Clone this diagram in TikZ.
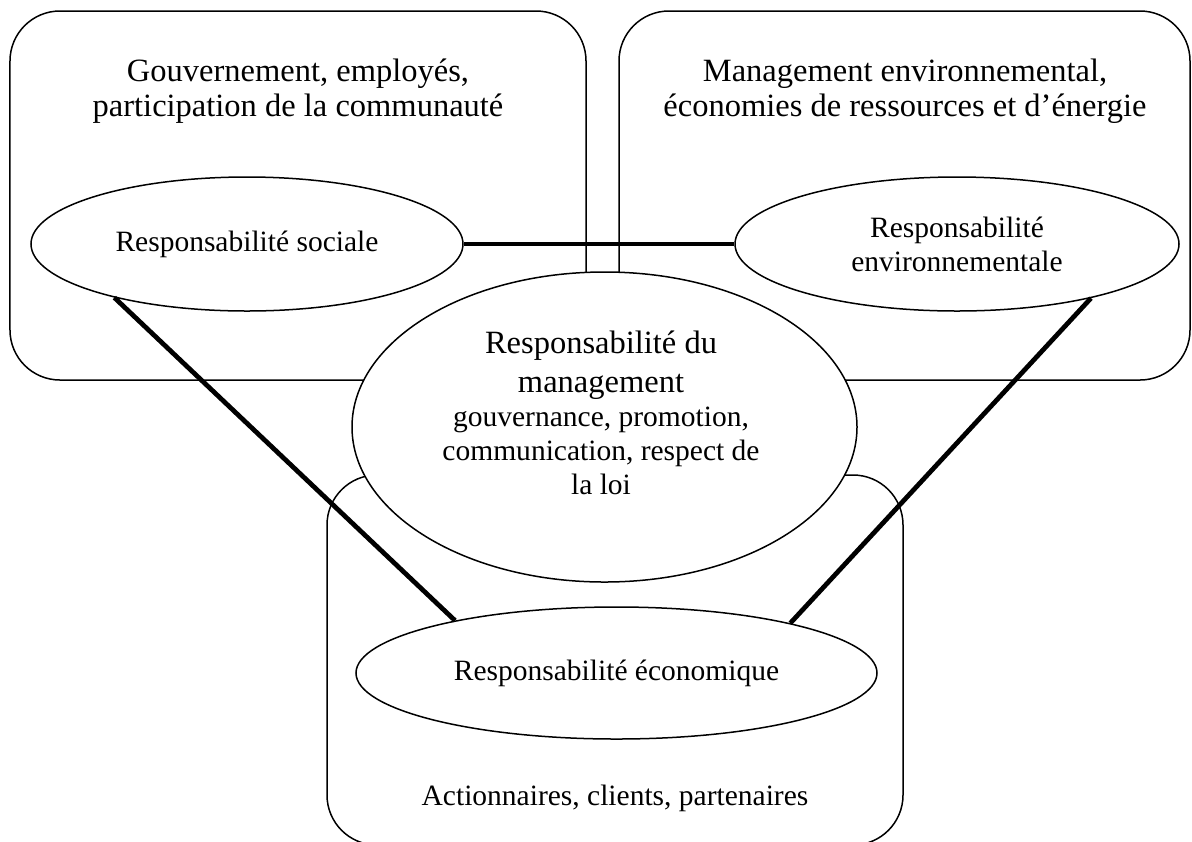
\documentclass[tikz,border=0pt]{standalone}
\usepackage{fontspec}
\setmainfont{Liberation Serif}
\usetikzlibrary{shapes.geometric, positioning}
\newcommand{\normtext}{\fontsize{11.8pt}{13.6pt}\selectfont}
\newcommand{\bigtext}{\fontsize{13pt}{14pt}\selectfont}

\begin{document}
\begin{tikzpicture}[
  x=0.4pt, y=-0.4pt,
  panel/.style={draw, line width=0.6pt, rounded corners=20pt,
                minimum width=230.4pt, minimum height=147.6pt, inner sep=0pt},
  bubble/.style={draw, ellipse, line width=0.6pt, fill=white,
                 inner sep=0pt, align=center, font=\normtext},
  title/.style={align=center, font=\bigtext},
  link/.style={line width=1.9pt}
]
\useasboundingbox (0,0) rectangle (1192,841);
\node[panel] (socbox) at (298,195.5) {};
\node[panel, minimum width=228.4pt] (envbox) at (904.5,195.5) {};
\node[panel, minimum height=148pt] (ecobox) at (615,660) {};
\node[title] (soctitle) at (298,91) {Gouvernement, employés,\\participation de la communauté};
\node[title] (envtitle) at (905,91) {Management environnemental,\\économies de ressources et d’énergie};
\node[bubble, minimum width=172.8pt, minimum height=53.6pt] (soc) at (247,244)
  {Responsabilité sociale};
\node[bubble, minimum width=177.6pt, minimum height=53.6pt] (env) at (957,244)
  {Responsabilité\\environnementale};
\node[bubble, minimum width=202pt, minimum height=124pt] (mgmt) at (604.5,427) {};
\node[align=center, font=\normtext] (mgmttext) at (601,413)
  {\bigtext Responsabilité du\\[2pt]\bigtext management\\\normtext gouvernance, promotion,\\\normtext communication, respect de\\\normtext la loi};
\node[bubble, minimum width=208.4pt, minimum height=52.8pt] (eco) at (616.5,673)
  {Responsabilité économique};
\node[font=\normtext] (ecotext) at (615,798) {Actionnaires, clients, partenaires};
\draw[link] (soc.east) -- (env.west);
\draw[link] (soc.202) -- (eco.162);
\draw[link] (env.338) -- (eco.16);
\end{tikzpicture}
\end{document}
